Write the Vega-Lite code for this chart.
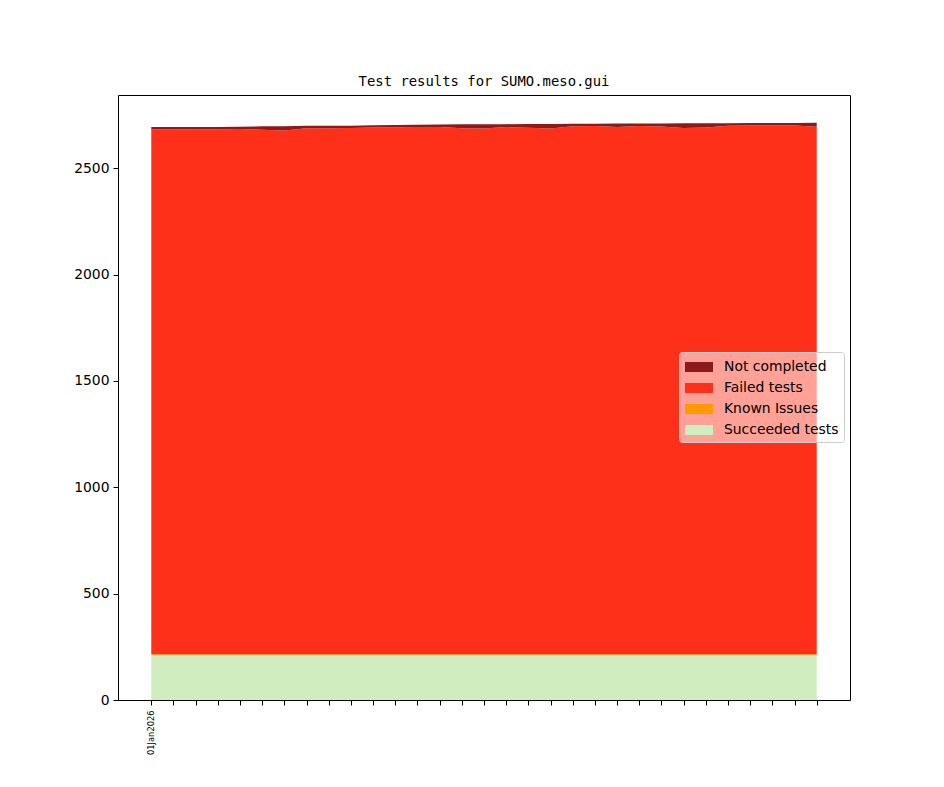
{
  "$schema": "https://vega.github.io/schema/vega-lite/v6.json",
  "autosize": "none",
  "width": 732,
  "height": 605,
  "padding": {"left": 118, "top": 95, "right": 94, "bottom": 87},
  "background": "white",
  "title": {"text": "Test results for SUMO.meso.gui", "font": "DejaVu Sans Mono", "fontSize": 13.9, "fontWeight": "normal", "color": "black", "anchor": "middle", "offset": 6},
  "config": {
    "view": {"stroke": "black", "strokeWidth": 1},
    "axis": {"domain": false, "grid": false, "tickColor": "black", "tickSize": 5, "labelColor": "black", "labelFont": "DejaVu Sans", "labelFontSize": 13.9, "labelPadding": 4, "titleColor": "black"}
  },
  "data": {"values": [
    {"date": "2026-01-01", "result": "Succeeded tests", "count": 212}, {"date": "2026-01-01", "result": "Known Issues", "count": 3}, {"date": "2026-01-01", "result": "Failed tests", "count": 2468}, {"date": "2026-01-01", "result": "Not completed", "count": 11},
    {"date": "2026-01-02", "result": "Succeeded tests", "count": 212}, {"date": "2026-01-02", "result": "Known Issues", "count": 3}, {"date": "2026-01-02", "result": "Failed tests", "count": 2468}, {"date": "2026-01-02", "result": "Not completed", "count": 11},
    {"date": "2026-01-03", "result": "Succeeded tests", "count": 212}, {"date": "2026-01-03", "result": "Known Issues", "count": 3}, {"date": "2026-01-03", "result": "Failed tests", "count": 2467}, {"date": "2026-01-03", "result": "Not completed", "count": 12},
    {"date": "2026-01-04", "result": "Succeeded tests", "count": 212}, {"date": "2026-01-04", "result": "Known Issues", "count": 3}, {"date": "2026-01-04", "result": "Failed tests", "count": 2468}, {"date": "2026-01-04", "result": "Not completed", "count": 11},
    {"date": "2026-01-05", "result": "Succeeded tests", "count": 212}, {"date": "2026-01-05", "result": "Known Issues", "count": 3}, {"date": "2026-01-05", "result": "Failed tests", "count": 2469}, {"date": "2026-01-05", "result": "Not completed", "count": 11},
    {"date": "2026-01-06", "result": "Succeeded tests", "count": 212}, {"date": "2026-01-06", "result": "Known Issues", "count": 3}, {"date": "2026-01-06", "result": "Failed tests", "count": 2466}, {"date": "2026-01-06", "result": "Not completed", "count": 16},
    {"date": "2026-01-07", "result": "Succeeded tests", "count": 212}, {"date": "2026-01-07", "result": "Known Issues", "count": 3}, {"date": "2026-01-07", "result": "Failed tests", "count": 2462}, {"date": "2026-01-07", "result": "Not completed", "count": 20},
    {"date": "2026-01-08", "result": "Succeeded tests", "count": 212}, {"date": "2026-01-08", "result": "Known Issues", "count": 3}, {"date": "2026-01-08", "result": "Failed tests", "count": 2473}, {"date": "2026-01-08", "result": "Not completed", "count": 11},
    {"date": "2026-01-09", "result": "Succeeded tests", "count": 212}, {"date": "2026-01-09", "result": "Known Issues", "count": 3}, {"date": "2026-01-09", "result": "Failed tests", "count": 2473}, {"date": "2026-01-09", "result": "Not completed", "count": 11},
    {"date": "2026-01-10", "result": "Succeeded tests", "count": 212}, {"date": "2026-01-10", "result": "Known Issues", "count": 3}, {"date": "2026-01-10", "result": "Failed tests", "count": 2474}, {"date": "2026-01-10", "result": "Not completed", "count": 11},
    {"date": "2026-01-11", "result": "Succeeded tests", "count": 212}, {"date": "2026-01-11", "result": "Known Issues", "count": 3}, {"date": "2026-01-11", "result": "Failed tests", "count": 2476}, {"date": "2026-01-11", "result": "Not completed", "count": 11},
    {"date": "2026-01-12", "result": "Succeeded tests", "count": 212}, {"date": "2026-01-12", "result": "Known Issues", "count": 3}, {"date": "2026-01-12", "result": "Failed tests", "count": 2477}, {"date": "2026-01-12", "result": "Not completed", "count": 11},
    {"date": "2026-01-13", "result": "Succeeded tests", "count": 212}, {"date": "2026-01-13", "result": "Known Issues", "count": 3}, {"date": "2026-01-13", "result": "Failed tests", "count": 2478}, {"date": "2026-01-13", "result": "Not completed", "count": 11},
    {"date": "2026-01-14", "result": "Succeeded tests", "count": 212}, {"date": "2026-01-14", "result": "Known Issues", "count": 3}, {"date": "2026-01-14", "result": "Failed tests", "count": 2478}, {"date": "2026-01-14", "result": "Not completed", "count": 12},
    {"date": "2026-01-15", "result": "Succeeded tests", "count": 212}, {"date": "2026-01-15", "result": "Known Issues", "count": 3}, {"date": "2026-01-15", "result": "Failed tests", "count": 2473}, {"date": "2026-01-15", "result": "Not completed", "count": 18},
    {"date": "2026-01-16", "result": "Succeeded tests", "count": 212}, {"date": "2026-01-16", "result": "Known Issues", "count": 3}, {"date": "2026-01-16", "result": "Failed tests", "count": 2471}, {"date": "2026-01-16", "result": "Not completed", "count": 20},
    {"date": "2026-01-17", "result": "Succeeded tests", "count": 212}, {"date": "2026-01-17", "result": "Known Issues", "count": 3}, {"date": "2026-01-17", "result": "Failed tests", "count": 2478}, {"date": "2026-01-17", "result": "Not completed", "count": 14},
    {"date": "2026-01-18", "result": "Succeeded tests", "count": 212}, {"date": "2026-01-18", "result": "Known Issues", "count": 3}, {"date": "2026-01-18", "result": "Failed tests", "count": 2475}, {"date": "2026-01-18", "result": "Not completed", "count": 18},
    {"date": "2026-01-19", "result": "Succeeded tests", "count": 212}, {"date": "2026-01-19", "result": "Known Issues", "count": 3}, {"date": "2026-01-19", "result": "Failed tests", "count": 2471}, {"date": "2026-01-19", "result": "Not completed", "count": 22},
    {"date": "2026-01-20", "result": "Succeeded tests", "count": 212}, {"date": "2026-01-20", "result": "Known Issues", "count": 3}, {"date": "2026-01-20", "result": "Failed tests", "count": 2482}, {"date": "2026-01-20", "result": "Not completed", "count": 12},
    {"date": "2026-01-21", "result": "Succeeded tests", "count": 212}, {"date": "2026-01-21", "result": "Known Issues", "count": 3}, {"date": "2026-01-21", "result": "Failed tests", "count": 2483}, {"date": "2026-01-21", "result": "Not completed", "count": 11},
    {"date": "2026-01-22", "result": "Succeeded tests", "count": 212}, {"date": "2026-01-22", "result": "Known Issues", "count": 3}, {"date": "2026-01-22", "result": "Failed tests", "count": 2479}, {"date": "2026-01-22", "result": "Not completed", "count": 16},
    {"date": "2026-01-23", "result": "Succeeded tests", "count": 212}, {"date": "2026-01-23", "result": "Known Issues", "count": 3}, {"date": "2026-01-23", "result": "Failed tests", "count": 2483}, {"date": "2026-01-23", "result": "Not completed", "count": 12},
    {"date": "2026-01-24", "result": "Succeeded tests", "count": 212}, {"date": "2026-01-24", "result": "Known Issues", "count": 3}, {"date": "2026-01-24", "result": "Failed tests", "count": 2481}, {"date": "2026-01-24", "result": "Not completed", "count": 14},
    {"date": "2026-01-25", "result": "Succeeded tests", "count": 212}, {"date": "2026-01-25", "result": "Known Issues", "count": 3}, {"date": "2026-01-25", "result": "Failed tests", "count": 2474}, {"date": "2026-01-25", "result": "Not completed", "count": 22},
    {"date": "2026-01-26", "result": "Succeeded tests", "count": 212}, {"date": "2026-01-26", "result": "Known Issues", "count": 3}, {"date": "2026-01-26", "result": "Failed tests", "count": 2476}, {"date": "2026-01-26", "result": "Not completed", "count": 20},
    {"date": "2026-01-27", "result": "Succeeded tests", "count": 212}, {"date": "2026-01-27", "result": "Known Issues", "count": 3}, {"date": "2026-01-27", "result": "Failed tests", "count": 2484}, {"date": "2026-01-27", "result": "Not completed", "count": 12},
    {"date": "2026-01-28", "result": "Succeeded tests", "count": 212}, {"date": "2026-01-28", "result": "Known Issues", "count": 3}, {"date": "2026-01-28", "result": "Failed tests", "count": 2486}, {"date": "2026-01-28", "result": "Not completed", "count": 11},
    {"date": "2026-01-29", "result": "Succeeded tests", "count": 212}, {"date": "2026-01-29", "result": "Known Issues", "count": 3}, {"date": "2026-01-29", "result": "Failed tests", "count": 2486}, {"date": "2026-01-29", "result": "Not completed", "count": 11},
    {"date": "2026-01-30", "result": "Succeeded tests", "count": 212}, {"date": "2026-01-30", "result": "Known Issues", "count": 3}, {"date": "2026-01-30", "result": "Failed tests", "count": 2486}, {"date": "2026-01-30", "result": "Not completed", "count": 11},
    {"date": "2026-01-31", "result": "Succeeded tests", "count": 212}, {"date": "2026-01-31", "result": "Known Issues", "count": 3}, {"date": "2026-01-31", "result": "Failed tests", "count": 2480}, {"date": "2026-01-31", "result": "Not completed", "count": 18}
  ]},
  "transform": [
    {"calculate": "indexof(['Succeeded tests','Known Issues','Failed tests','Not completed'], datum.result)", "as": "stackorder"}
  ],
  "mark": {"type": "area", "interpolate": "linear"},
  "encoding": {
    "x": {
      "field": "date", "type": "temporal", "title": null,
      "scale": {"type": "utc", "domain": [{"year": 2025, "month": 12, "date": 30, "hours": 12, "utc": true}, {"year": 2026, "month": 2, "date": 1, "hours": 12, "utc": true}], "nice": false},
      "axis": {
        "values": [
          {"year": 2026, "month": 1, "date": 1, "utc": true}, {"year": 2026, "month": 1, "date": 2, "utc": true}, {"year": 2026, "month": 1, "date": 3, "utc": true}, {"year": 2026, "month": 1, "date": 4, "utc": true}, {"year": 2026, "month": 1, "date": 5, "utc": true}, {"year": 2026, "month": 1, "date": 6, "utc": true}, {"year": 2026, "month": 1, "date": 7, "utc": true}, {"year": 2026, "month": 1, "date": 8, "utc": true}, {"year": 2026, "month": 1, "date": 9, "utc": true}, {"year": 2026, "month": 1, "date": 10, "utc": true}, {"year": 2026, "month": 1, "date": 11, "utc": true}, {"year": 2026, "month": 1, "date": 12, "utc": true}, {"year": 2026, "month": 1, "date": 13, "utc": true}, {"year": 2026, "month": 1, "date": 14, "utc": true}, {"year": 2026, "month": 1, "date": 15, "utc": true}, {"year": 2026, "month": 1, "date": 16, "utc": true}, {"year": 2026, "month": 1, "date": 17, "utc": true}, {"year": 2026, "month": 1, "date": 18, "utc": true}, {"year": 2026, "month": 1, "date": 19, "utc": true}, {"year": 2026, "month": 1, "date": 20, "utc": true}, {"year": 2026, "month": 1, "date": 21, "utc": true}, {"year": 2026, "month": 1, "date": 22, "utc": true}, {"year": 2026, "month": 1, "date": 23, "utc": true}, {"year": 2026, "month": 1, "date": 24, "utc": true}, {"year": 2026, "month": 1, "date": 25, "utc": true}, {"year": 2026, "month": 1, "date": 26, "utc": true}, {"year": 2026, "month": 1, "date": 27, "utc": true}, {"year": 2026, "month": 1, "date": 28, "utc": true}, {"year": 2026, "month": 1, "date": 29, "utc": true}, {"year": 2026, "month": 1, "date": 30, "utc": true}, {"year": 2026, "month": 1, "date": 31, "utc": true}
        ],
        "labelExpr": "utcFormat(datum.value, '%d%b%Y') == '01Jan2026' ? '01Jan2026' : ''", "labelAngle": -90, "labelAlign": "right", "labelBaseline": "middle", "labelFontSize": 8.3, "labelOverlap": false, "labelPadding": 5
      }
    },
    "y": {
      "field": "count", "type": "quantitative", "stack": "zero", "title": null,
      "scale": {"domain": [0, 2844], "nice": false, "zero": true},
      "axis": {"values": [0, 500, 1000, 1500, 2000, 2500], "format": "d"}
    },
    "color": {
      "field": "result", "type": "nominal",
      "scale": {"domain": ["Not completed", "Failed tests", "Known Issues", "Succeeded tests"], "range": ["#8c1a1a", "#ff301a", "#ff9900", "#d0edc0"]},
      "legend": {
        "title": null, "orient": "none", "legendX": 561, "legendY": 257,
        "fillColor": "rgba(255,255,255,0.55)", "strokeColor": "#cccccc", "cornerRadius": 3, "padding": 5,
        "symbolType": "M-1.4,-0.5L1.4,-0.5L1.4,0.5L-1.4,0.5Z", "symbolSize": 400, "symbolStrokeWidth": 0, "symbolOpacity": 1, "symbolOffset": 5,
        "labelFont": "DejaVu Sans", "labelFontSize": 13.9, "labelColor": "black", "labelOffset": 15, "rowPadding": 4
      }
    },
    "order": {"field": "stackorder", "type": "quantitative"}
  }
}
